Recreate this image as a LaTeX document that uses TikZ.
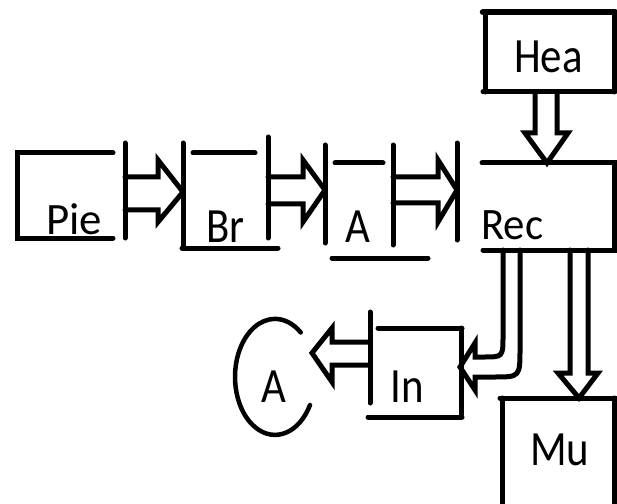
\documentclass[tikz,border=0pt]{standalone}
\usepackage{fontspec}
\usepackage{graphicx}
\setmainfont{Carlito}
\newcommand{\tallbox}[2][1.2]{\scalebox{1}[#1]{#2}}
\tikzset{
  stroke/.style={line width=5bp, line cap=round, line join=miter},
  lbl/.style={inner sep=0pt, anchor=base west, font=\fontsize{43}{43}\selectfont},
}
\begin{document}
\begin{tikzpicture}[x=1bp,y=-1bp]
\useasboundingbox (0,0) rectangle (617,504);
% labels
\node[lbl] (hea) at (514,73) {\tallbox[1.15]{Hea}};
\node[lbl] (pie) at (46,235) {\tallbox[1.0]{\fontsize{45}{45}\selectfont Pie}};
\node[lbl] (br) at (206,243) {\tallbox[1.15]{Br}};
\node[lbl] (a1) at (345,243) {\tallbox[1.15]{A}};
\node[lbl] (rec) at (481,240) {\tallbox[1.05]{Rec}};
\node[lbl] (a2) at (261,402) {\tallbox[1.15]{A}};
\node[lbl] (in) at (390,402) {\tallbox[1.15]{In}};
\node[lbl] (mu) at (530,465) {\tallbox[1.15]{Mu}};
% Pie box
\draw[stroke] (113,153) -- (17,153) -- (17,238) -- (113,238);
\draw[stroke] (125,143) -- (125,238);
% arrow 1
\draw[stroke] (125,177) -- (158,177) -- (158,160) -- (183,192) -- (158,222) -- (158,210) -- (125,210);
% Br box
\draw[stroke] (183,143) -- (183,247);
\draw[stroke] (193,153) -- (255,153);
\draw[stroke] (182,248) -- (278,248);
\draw[stroke] (268,137) -- (268,238);
% arrow 2
\draw[stroke] (268,177) -- (303,177) -- (303,160) -- (325,190) -- (303,222) -- (303,204) -- (268,204);
% A box
\draw[stroke] (325,145) -- (325,243);
\draw[stroke] (335,163) -- (383,163);
\draw[stroke] (332,258) -- (428,258);
\draw[stroke] (393,145) -- (393,245);
% arrow 3
\draw[stroke] (393,177) -- (438,177) -- (438,160) -- (457,190) -- (438,222) -- (438,203) -- (393,203);
\draw[stroke] (457,143) -- (457,240);
% Rec box
\draw[stroke] (482,163) -- (617,163);
\draw[stroke] (614,163) -- (614,250);
\draw[stroke] (483,250) -- (617,250);
% Hea box
\draw[line width=6.5bp, line cap=round] (483,12) -- (615,12);
\draw[stroke] (485,12) -- (485,92);
\draw[stroke] (614,12) -- (614,92);
\draw[stroke] (483,92) -- (615,92);
% Hea arrow
\draw[stroke] (535,92) -- (535,133) -- (525,133) -- (547,163) -- (568,133) -- (557,133) -- (557,92);
% Mu arrow
\draw[stroke] (570,250) -- (570,373) -- (558,373) -- (579,398) -- (598,373) -- (588,373) -- (588,250);
% Mu box
\draw[stroke] (500,398) -- (617,398);
\draw[stroke] (502,398) -- (502,504);
\draw[stroke] (614,398) -- (614,504);
% curved arrow Rec -> In
\draw[stroke] (503,250) -- (503,335) .. controls (503,357) .. (484,357) -- (475,357) -- (475,343) -- (460,367) -- (475,390) -- (475,377) -- (494,377) .. controls (520,377) .. (520,348) -- (520,250);
% In box
\draw[stroke] (370,312) -- (370,403);
\draw[stroke] (378,328) -- (462,328);
\draw[stroke] (461,328) -- (461,417);
\draw[stroke] (368,417) -- (462,417);
% In -> A arrow
\draw[stroke] (370,342) -- (332,342) -- (332,328) -- (312,353) -- (332,382) -- (332,365) -- (370,365);
% A circle arc
\draw[line width=4.5bp, line cap=round] (310,405) arc[start angle=29, end angle=310, x radius=40, y radius=58];
\end{tikzpicture}
\end{document}
